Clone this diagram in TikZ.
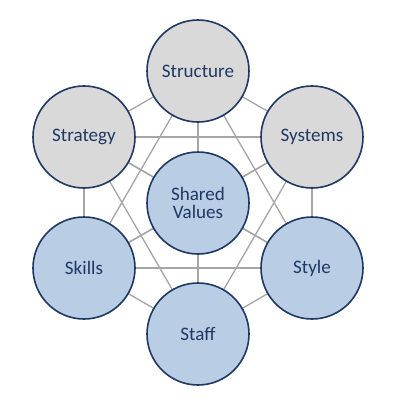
\documentclass[tikz,border=0pt]{standalone}
\usepackage{fontspec}
\setmainfont{Carlito}
\definecolor{ringblue}{HTML}{203864}
\definecolor{greyfill}{HTML}{D9D9D9}
\definecolor{bluefill}{HTML}{B9CDE5}
\definecolor{linkgrey}{HTML}{A6A6A6}
\begin{document}
\begin{tikzpicture}[x=0.75pt,y=-0.75pt,
  sbase/.style={circle,draw=ringblue,line width=1.2pt,minimum size=76.5pt,inner sep=0pt,
    text=ringblue,font=\fontsize{14.3}{14}\selectfont,align=center},
  greyc/.style={sbase,fill=greyfill},
  bluec/.style={sbase,fill=bluefill},
  link/.style={draw=linkgrey,line width=1pt}]
\useasboundingbox (0,0) rectangle (400,403);
\coordinate (cst) at (198,71);
\coordinate (csg) at (84,137);
\coordinate (csy) at (312,137);
\coordinate (csv) at (198,203);
\coordinate (csk) at (84,268);
\coordinate (csl) at (312,268);
\coordinate (csf) at (198,334);
\foreach \a/\b in {cst/csg,cst/csy,cst/csv,cst/csk,cst/csl,cst/csf,
  csg/csy,csg/csv,csg/csk,csg/csl,csg/csf,
  csy/csv,csy/csk,csy/csl,csy/csf,
  csv/csk,csv/csl,csv/csf,
  csk/csl,csk/csf,csl/csf}
  \draw[link] (\a) -- (\b);
\node[greyc] (structure) at (cst) {Structure};
\node[greyc] (strategy) at (csg) {Strategy};
\node[greyc] (systems) at (csy) {Systems};
\node[bluec,font=\fontsize{14.3}{14}\selectfont] (shared) at (csv) {Shared\\Values};
\node[bluec] (skills) at (csk) {Skills};
\node[bluec] (style) at (csl) {Style};
\node[bluec] (staff) at (csf) {Staff};
\end{tikzpicture}
\end{document}
